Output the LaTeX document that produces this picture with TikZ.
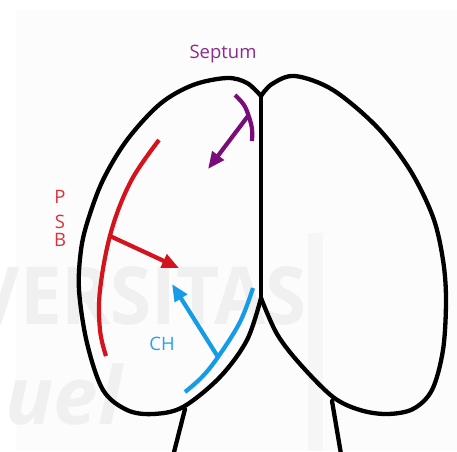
\documentclass[tikz,border=0pt]{standalone}
\usepackage{fontspec}
\setmainfont{Open Sans}
\usetikzlibrary{arrows.meta}

\definecolor{septumPurple}{HTML}{7A0C7A}
\definecolor{septumText}{HTML}{8C2C8C}
\definecolor{psbRed}{HTML}{D3131D}
\definecolor{psbText}{HTML}{D8343C}
\definecolor{chBlue}{HTML}{169CE6}
\definecolor{chText}{HTML}{2AA3E8}
\definecolor{paper}{HTML}{FCFCFC}
\definecolor{markGray}{HTML}{F0F0F0}
\definecolor{bandGray}{HTML}{F6F6F6}

\begin{document}
\begin{tikzpicture}[x=1pt,y=-1pt,
  outline/.style={line width=4.3pt, line cap=round, line join=round, black},
  pathway/.style={line width=4.2pt, line cap=butt},
  head/.style={-{Triangle[length=17pt,width=14pt]}},
  label/.style={font=\fontsize{18.5}{22}\selectfont, inner sep=0pt, anchor=base},
  watermark/.style={font=\fontsize{80}{80}\selectfont\bfseries, text=markGray, inner sep=0pt}
]
\useasboundingbox (0,0) rectangle (457,451);
\clip (0,0) rectangle (457,451);

% faint paper and watermark behind the drawing
\fill[paper] (16,10) rectangle (457,451);
\fill[bandGray] (308,233) rectangle (323,451);
\node[watermark, anchor=base east, xscale=0.93] (wmTop) at (307,324) {VERSITAS};
\node[watermark, anchor=base east, font=\fontsize{80}{80}\selectfont\bfseries\itshape] (wmBottom) at (122,424) {uel};

% left hemisphere
\draw[outline] plot[smooth, tension=0.55] coordinates {
  (261,298) (247,340) (220,377) (183,407) (153,414) (127,410) (103,390)
  (87,343) (79,290) (81,250) (88,220) (103,180) (127,140) (160,104)
  (193,85) (227,78) (247,83) (261,96)};
% right hemisphere
\draw[outline] plot[smooth, tension=0.55] coordinates {
  (261,96) (272,84) (295,76) (333,90) (377,127) (410,170) (433,217)
  (443,260) (446,300) (443,350) (432,390) (413,409) (387,414) (360,410)
  (333,397) (300,364) (277,334) (261,298)};
% midline
\draw[outline] (261,96) -- (261,298);
% olfactory stalks
\draw[outline] (185,409) -- (172,460);
\draw[outline] (332,401) -- (342,460);

% septum input
\draw[pathway, septumPurple] plot[smooth, tension=0.6] coordinates {
  (235,95) (244,105) (249,117) (252,129) (252,141)};
\coordinate (septRoot) at (248,116);
\coordinate (septTip) at (208,169);
\draw[pathway, septumPurple, head] (septRoot) -- (septTip);

% pallial-subpallial boundary input
\draw[pathway, psbRed] plot[smooth, tension=0.6] coordinates {
  (159,140) (131,181) (111,232) (100,290) (100,330) (106,356)};
\coordinate (psbRoot) at (110,236);
\coordinate (psbTip) at (179,268);
\draw[pathway, psbRed, head] (psbRoot) -- (psbTip);

% cortical hem input
\draw[pathway, chBlue] plot[smooth, tension=0.6] coordinates {
  (253,288) (240,322) (218,357) (202,377) (185,392)};
\coordinate (chRoot) at (218,357);
\coordinate (chTip) at (172,284);
\draw[pathway, chBlue, head] (chRoot) -- (chTip);

% labels
\node[label, text=septumText] (septum) at (223,58) {Septum};
\node[label, text=psbText] (psbP) at (60,203) {P};
\node[label, text=psbText] (psbS) at (60,228) {S};
\node[label, text=psbText] (psbB) at (60,246) {B};
\node[label, text=chText] (ch) at (162,350) {CH};
\end{tikzpicture}
\end{document}
